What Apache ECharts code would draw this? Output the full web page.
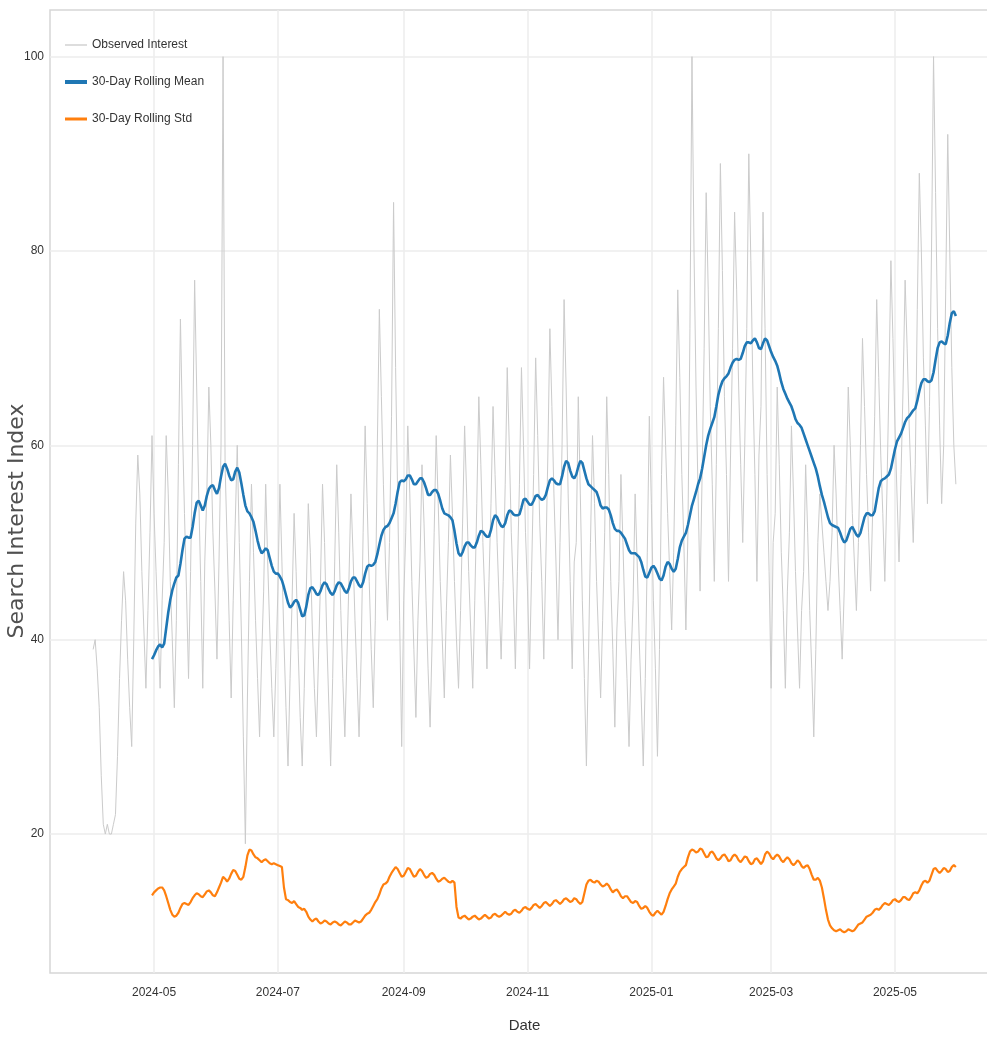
<!DOCTYPE html>
<html><head><meta charset="utf-8">
<script src="https://cdn.jsdelivr.net/npm/echarts@6/dist/echarts.min.js"></script>
<style>html,body{margin:0;padding:0;background:#fff}#chart{width:987px;height:1040px}</style>
</head><body><div id="chart"></div>
<script>
// first observed day: 2024-04-01 ; rolling window 30 days
const startDate = [2024, 4, 1];
const windowDays = 30;
const seriesNames = ['Observed Interest', '30-Day Rolling Mean', '30-Day Rolling Std'];
const xTickLabels = ['2024-05', '2024-07', '2024-09', '2024-11', '2025-01', '2025-03', '2025-05'];
const yTickLabels = [20, 40, 60, 80, 100];
const xTitle = 'Date';
const yTitle = 'Search Interest Index';

// daily observed interest (one row per week, Mon..Sun)
const observed = [
  39, 40, 37, 33, 26, 21, 20,
  21, 20, 20, 21, 22, 28, 36,
  42, 47, 44, 38, 33, 29, 40,
  52, 59, 55, 47, 41, 35, 43,
  51, 61, 53, 47, 41, 35, 44,
  50, 61, 55, 46, 40, 33, 42,
  58, 73, 62, 53, 45, 36, 47,
  60, 77, 66, 55, 46, 35, 48,
  55, 66, 60, 51, 45, 38, 48,
  60, 100, 58, 50, 42, 34, 44,
  52, 60, 50, 41, 30, 19, 34,
  46, 56, 49, 42, 36, 30, 38,
  45, 56, 48, 41, 35, 30, 37,
  45, 56, 48, 40, 33, 27, 36,
  44, 53, 47, 39, 32, 27, 35,
  45, 54, 49, 41, 35, 30, 38,
  46, 56, 50, 41, 34, 27, 36,
  48, 58, 51, 43, 36, 30, 38,
  46, 55, 49, 42, 36, 30, 38,
  51, 62, 54, 46, 39, 33, 42,
  60, 74, 65, 56, 48, 42, 50,
  63, 85, 68, 55, 42, 29, 44,
  51, 62, 55, 46, 39, 32, 42,
  48, 58, 52, 44, 37, 31, 40,
  51, 61, 54, 46, 40, 34, 43,
  50, 59, 53, 46, 40, 35, 43,
  52, 62, 55, 47, 41, 35, 44,
  54, 65, 58, 50, 44, 37, 46,
  54, 64, 57, 50, 44, 38, 46,
  56, 68, 60, 51, 45, 37, 47,
  56, 68, 60, 51, 45, 37, 47,
  57, 69, 61, 52, 46, 38, 48,
  59, 72, 64, 55, 48, 40, 50,
  60, 75, 66, 55, 46, 37, 48,
  50, 65, 55, 44, 36, 27, 38,
  50, 61, 54, 46, 40, 34, 42,
  51, 65, 57, 46, 39, 31, 41,
  46, 57, 50, 42, 36, 29, 38,
  44, 55, 48, 40, 34, 27, 36,
  49, 63, 54, 44, 37, 28, 39,
  57, 67, 60, 53, 47, 41, 49,
  62, 76, 67, 57, 50, 41, 51,
  72, 100, 80, 66, 55, 45, 57,
  70, 86, 76, 64, 56, 46, 58,
  72, 89, 78, 65, 57, 46, 59,
  70, 84, 76, 66, 58, 50, 60,
  72, 90, 79, 66, 57, 46, 59,
  64, 84, 72, 57, 47, 35, 50,
  53, 66, 58, 49, 43, 35, 45,
  51, 62, 55, 47, 41, 35, 43,
  47, 58, 51, 43, 37, 30, 39,
  50, 55, 52, 49, 46, 43, 46,
  51, 60, 55, 48, 43, 38, 45,
  56, 66, 60, 53, 48, 43, 50,
  60, 71, 64, 57, 51, 45, 53,
  63, 75, 67, 59, 53, 46, 55,
  66, 79, 71, 62, 55, 48, 57,
  66, 77, 70, 62, 56, 50, 58,
  74, 88, 80, 69, 62, 54, 64,
  80, 100, 86, 72, 62, 54, 60,
  76, 92, 80, 68, 60, 56
];

// 30-day rolling mean, from 2024-04-30 onwards
const rollingMean = [
  38.0, 38.4, 38.9, 39.3, 39.5, 39.2,
  39.6, 41.2, 42.8, 44.1, 45.1, 45.8, 46.4,
  46.6, 47.8, 49.2, 50.4, 50.6, 50.5, 50.5,
  51.6, 53.0, 54.1, 54.3, 53.8, 53.3, 53.8,
  54.8, 55.5, 55.8, 55.9, 55.4, 55.0, 55.6,
  56.8, 57.8, 58.1, 57.6, 56.9, 56.4, 56.5,
  57.3, 57.7, 57.2, 56.1, 54.9, 53.8, 53.2,
  53.0, 52.6, 52.1, 51.2, 50.2, 49.4, 48.9,
  49.1, 49.4, 49.2, 48.4, 47.6, 47.0, 46.8,
  46.8, 46.5, 46.1, 45.4, 44.6, 43.8, 43.3,
  43.5, 43.9, 44.1, 43.8, 43.1, 42.4, 42.5,
  43.4, 44.6, 45.3, 45.4, 45.1, 44.7, 44.6,
  45.0, 45.6, 45.9, 45.7, 45.2, 44.8, 44.6,
  45.0, 45.6, 45.9, 45.8, 45.4, 45.0, 44.8,
  45.3, 46.0, 46.4, 46.4, 46.0, 45.6, 45.4,
  45.9, 46.8, 47.5, 47.7, 47.6, 47.7, 48.0,
  48.8, 49.8, 50.7, 51.3, 51.6, 51.7, 52.0,
  52.5, 53.0, 54.0, 55.2, 56.2, 56.4, 56.3,
  56.5, 56.9, 56.9, 56.5, 56.0, 56.0, 56.3,
  56.6, 56.6, 56.2, 55.6, 54.9, 54.9, 55.2,
  55.4, 55.4, 55.0, 54.3, 53.5, 53.0, 52.9,
  52.8, 52.6, 52.3, 51.2, 49.9, 48.9, 48.6,
  49.0, 49.6, 50.0, 50.0, 49.7, 49.5, 49.5,
  50.0, 50.7, 51.2, 51.1, 50.8, 50.6, 50.6,
  51.3, 52.3, 52.8, 52.6, 52.1, 51.7, 51.6,
  52.0, 52.8, 53.3, 53.2, 52.9, 52.8, 52.8,
  52.9, 53.6, 54.4, 54.5, 54.2, 53.9, 53.9,
  54.3, 54.8, 54.9, 54.6, 54.4, 54.5, 54.9,
  55.7, 56.4, 56.6, 56.4, 56.1, 56.0, 56.0,
  56.8, 57.8, 58.4, 58.2, 57.4, 56.8, 56.6,
  57.0, 57.8, 58.4, 58.2, 57.4, 56.6, 56.0,
  55.8, 55.6, 55.4, 55.2, 54.6, 53.8, 53.5,
  53.6, 53.6, 53.4, 52.8, 52.0, 51.4, 51.2,
  51.2, 51.0, 50.7, 50.4, 49.8, 49.2, 48.9,
  48.9, 48.9, 48.7, 48.5, 48.0, 47.2, 46.5,
  46.4, 46.9, 47.4, 47.6, 47.3, 46.8, 46.3,
  46.1, 46.6, 47.5, 48.0, 47.8, 47.3, 47.0,
  47.3, 48.3, 49.5, 50.2, 50.6, 51.0, 51.8,
  52.8, 53.8, 54.5, 55.2, 56.0, 56.6, 57.6,
  58.8, 60.0, 61.0, 61.7, 62.3, 62.9, 64.0,
  65.2, 66.0, 66.6, 66.9, 67.1, 67.4, 68.0,
  68.5, 68.8, 68.9, 68.8, 68.9, 69.5, 70.2,
  70.6, 70.6, 70.5, 70.8, 71.0, 70.6, 70.0,
  69.9, 70.5, 71.0, 70.8, 70.2, 69.6, 69.1,
  68.7, 68.2, 67.4, 66.5, 65.8, 65.3, 64.8,
  64.4, 64.0, 63.4, 62.7, 62.3, 62.1, 61.8,
  61.2, 60.6, 60.0, 59.4, 58.8, 58.2, 57.6,
  56.8, 55.8, 54.9, 54.2, 53.4, 52.6, 52.0,
  51.8, 51.7, 51.6, 51.5, 51.0, 50.4, 50.0,
  50.2, 50.8, 51.4, 51.6, 51.2, 50.8, 50.6,
  51.0, 51.8, 52.6, 53.0, 53.0, 52.8, 52.8,
  53.2, 54.4, 55.6, 56.3, 56.5, 56.6, 56.8,
  57.0, 57.6, 58.6, 59.6, 60.4, 60.8, 61.2,
  61.8, 62.4, 62.8, 63.0, 63.3, 63.6, 63.8,
  64.6, 65.6, 66.4, 66.8, 66.8, 66.6, 66.5,
  66.7, 67.5, 68.8, 70.0, 70.6, 70.7, 70.5,
  70.4, 71.3, 72.6, 73.6, 73.8, 73.3
];

// 30-day rolling standard deviation, from 2024-04-30 onwards
const rollingStd = [
  13.7, 14.0, 14.2, 14.4, 14.5, 14.5,
  14.2, 13.6, 12.9, 12.2, 11.7, 11.5, 11.6,
  11.9, 12.4, 12.8, 12.9, 12.8, 12.7, 13.0,
  13.4, 13.7, 13.9, 13.8, 13.6, 13.5, 13.8,
  14.1, 14.2, 14.0, 13.7, 13.6, 14.0, 14.5,
  15.0, 15.6, 15.4, 15.1, 15.4, 15.9, 16.3,
  16.2, 15.8, 15.4, 15.3, 15.6, 16.6, 17.8,
  18.4, 18.3, 17.9, 17.6, 17.5, 17.3, 17.1,
  17.3, 17.4, 17.2, 17.0, 16.9, 17.0, 16.9,
  16.8, 16.7, 16.6, 14.5, 13.3, 13.2, 13.0,
  12.9, 13.1, 12.8, 12.5, 12.4, 12.2, 12.3,
  12.0, 11.5, 11.2, 11.0, 11.2, 11.3, 11.0,
  10.8, 10.9, 11.1, 11.0, 10.8, 10.7, 10.9,
  11.0, 10.9, 10.7, 10.6, 10.8, 11.0, 10.9,
  10.7, 10.7, 10.9, 11.1, 11.0, 10.9, 11.0,
  11.3, 11.6, 11.8, 11.9, 12.2, 12.6, 13.0,
  13.3, 13.8, 14.4, 14.8, 14.9, 15.1, 15.6,
  16.0, 16.3, 16.6, 16.4, 16.0, 15.6, 15.7,
  16.1, 16.5, 16.4, 16.0, 15.6, 15.7, 16.1,
  16.4, 16.2, 15.8, 15.5, 15.6, 15.9, 16.0,
  15.8, 15.4, 15.1, 15.2, 15.4, 15.5, 15.3,
  15.1, 15.0, 15.2, 15.0, 12.5, 11.4, 11.3,
  11.5, 11.6, 11.4, 11.2, 11.3, 11.5, 11.6,
  11.4, 11.2, 11.3, 11.5, 11.7, 11.5, 11.3,
  11.4, 11.7, 11.8, 11.6, 11.5, 11.6, 11.8,
  12.0, 11.8, 11.7, 11.8, 12.1, 12.2, 12.0,
  11.9, 12.1, 12.4, 12.5, 12.3, 12.2, 12.4,
  12.7, 12.8, 12.6, 12.4, 12.6, 12.9, 13.0,
  12.8, 12.6, 12.8, 13.1, 13.2, 13.0, 12.8,
  13.0, 13.3, 13.4, 13.2, 13.0, 13.1, 13.4,
  13.3, 13.0, 12.8, 13.0, 13.9, 14.8, 15.2,
  15.3, 15.1, 15.0, 15.2, 15.1, 14.8, 14.6,
  14.7, 14.9, 14.7, 14.3, 14.0, 14.2, 14.3,
  14.0, 13.6, 13.4, 13.6, 13.6, 13.3, 13.0,
  12.9, 13.1, 13.0, 12.6, 12.3, 12.4, 12.6,
  12.4, 12.0, 11.7, 11.6, 11.9, 12.1, 11.9,
  11.7, 12.0, 12.6, 13.3, 13.9, 14.3, 14.6,
  14.9, 15.6, 16.1, 16.4, 16.6, 16.8, 17.6,
  18.2, 18.4, 18.3, 18.1, 18.2, 18.5, 18.4,
  18.0, 17.6, 17.7, 18.1, 18.2, 17.9, 17.5,
  17.3, 17.5, 17.8, 17.9, 17.6, 17.2, 17.3,
  17.7, 17.9, 17.7, 17.3, 17.1, 17.4, 17.7,
  17.6, 17.2, 16.9, 17.0, 17.4, 17.5, 17.2,
  16.9, 17.2, 17.9, 18.2, 18.0, 17.6, 17.4,
  17.7, 17.9, 17.7, 17.3, 17.1, 17.4, 17.6,
  17.4, 17.0, 16.8, 17.0, 17.3, 17.1, 16.7,
  16.5, 16.7, 16.8, 16.4, 15.8, 15.3, 15.3,
  15.5, 15.2, 14.5, 13.4, 12.2, 11.2, 10.6,
  10.3, 10.1, 10.0, 10.1, 10.2, 10.0, 9.9,
  10.0, 10.2, 10.1, 10.0, 10.1, 10.4, 10.7,
  10.8, 10.9, 11.2, 11.5, 11.6, 11.7, 11.9,
  12.2, 12.3, 12.2, 12.4, 12.7, 12.9, 12.8,
  12.7, 12.9, 13.2, 13.3, 13.1, 13.0, 13.2,
  13.5, 13.5, 13.3, 13.2, 13.5, 13.9, 14.0,
  13.9, 14.2, 14.7, 15.1, 15.2, 15.0, 15.2,
  15.8, 16.4, 16.5, 16.2, 16.0, 16.2, 16.5,
  16.4, 16.1, 16.2, 16.6, 16.8, 16.6
];

const FONT = "'Liberation Sans', 'DejaVu Sans', sans-serif";
const colors = ['#cbcbcb', '#1f77b4', '#ff7f0e'];

function dayTime(i) {
  return new Date(startDate[0], startDate[1] - 1, startDate[2] + i).getTime();
}
function monthTime(label) {
  const p = label.split('-').map(Number);
  return new Date(p[0], p[1] - 1, 1).getTime();
}
const obsData = observed.map((v, i) => [dayTime(i), v]);
const meanData = rollingMean.map((v, i) => [dayTime(i + windowDays - 1), v]);
const stdData = rollingStd.map((v, i) => [dayTime(i + windowDays - 1), v]);
const xTickValues = xTickLabels.map(monthTime);

// axis extents: data span padded by 5% on each side (matplotlib style)
const spanDays = observed.length - 1;
const padMs = spanDays * 0.05 * 86400000;
const xMin = dayTime(0) - padMs;
const xMax = dayTime(spanDays) + padMs;

const chart = echarts.init(document.getElementById('chart'), null, { renderer: 'canvas' });
chart.setOption({
  animation: false,
  backgroundColor: '#ffffff',
  grid: {
    left: 50, right: -12, top: 10, bottom: 67,
    outerBoundsMode: 'none', containLabel: false,
    show: true, borderColor: '#d6d6d6', borderWidth: 1.5, backgroundColor: 'transparent'
  },
  legend: {
    orient: 'vertical', left: 60, top: 34, itemGap: 25, itemWidth: 22, itemHeight: 14,
    symbolKeepAspect: true,
    textStyle: { fontSize: 12, color: '#333333', fontFamily: FONT },
    data: [
      { name: seriesNames[0], icon: 'path://M0,0H22V1.3H0Z' },
      { name: seriesNames[1], icon: 'path://M0,0H22V4H0Z' },
      { name: seriesNames[2], icon: 'path://M0,0H22V3H0Z' }
    ]
  },
  graphic: [
    {
      type: 'text', x: 17, y: 521, rotation: Math.PI / 2, silent: true,
      style: {
        text: yTitle, fill: '#505050', font: "22px 'DejaVu Sans', sans-serif",
        align: 'center', verticalAlign: 'middle', textAlign: 'center', textVerticalAlign: 'middle'
      }
    }
  ],
  xAxis: {
    type: 'value', min: xMin, max: xMax, scale: true,
    name: xTitle, nameLocation: 'middle', nameGap: 45,
    nameTextStyle: { fontSize: 15, color: '#333333', fontFamily: FONT },
    axisLine: { show: false },
    axisTick: { show: false, customValues: xTickValues },
    axisLabel: {
      customValues: xTickValues, fontSize: 12, color: '#333333', fontFamily: FONT, margin: 14,
      formatter: function (v) {
        const d = new Date(v);
        return d.getFullYear() + '-' + String(d.getMonth() + 1).padStart(2, '0');
      }
    },
    splitLine: { show: true, lineStyle: { color: '#ececec', width: 1.5 } }
  },
  yAxis: {
    type: 'value', min: 5.7, max: 104.8,
    axisLine: { show: false },
    axisTick: { show: false, customValues: yTickLabels },
    axisLabel: { customValues: yTickLabels, fontSize: 12, color: '#333333', fontFamily: FONT, margin: 6 },
    splitLine: { show: true, lineStyle: { color: '#ececec', width: 1.5 } }
  },
  series: [
    {
      name: seriesNames[0], type: 'line', data: obsData, showSymbol: false, symbol: 'none',
      lineStyle: { color: colors[0], width: 1 }, itemStyle: { color: colors[0] }, z: 1
    },
    {
      name: seriesNames[1], type: 'line', data: meanData, showSymbol: false, symbol: 'none',
      lineStyle: { color: colors[1], width: 2.6 }, itemStyle: { color: colors[1] }, z: 3
    },
    {
      name: seriesNames[2], type: 'line', data: stdData, showSymbol: false, symbol: 'none',
      lineStyle: { color: colors[2], width: 2.2 }, itemStyle: { color: colors[2] }, z: 2
    }
  ]
});
</script>
</body></html>
